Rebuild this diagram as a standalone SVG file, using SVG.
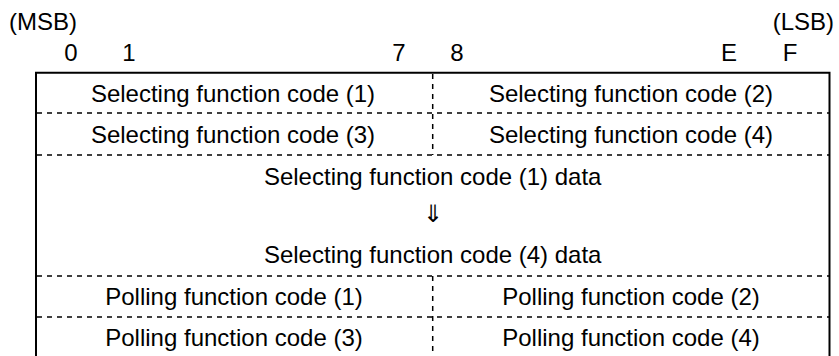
<svg xmlns="http://www.w3.org/2000/svg" width="839" height="356" viewBox="0 0 839 356">
<style>
text{font-family:"Liberation Sans",Arial,sans-serif;font-size:24px;fill:#000;text-anchor:middle}
.st{text-anchor:start}
.en{text-anchor:end}
.frame{fill:none;stroke:#000;stroke-width:2}
.dash{fill:none;stroke:#000;stroke-width:1.5;stroke-dasharray:5 5}
</style>
<rect width="839" height="356" fill="#fff"/>
<g id="header">
<text class="st" x="9" y="29.5">(MSB)</text>
<text class="en" x="834" y="29.5">(LSB)</text>
<text x="71" y="61">0</text>
<text x="129" y="61">1</text>
<text x="399" y="61">7</text>
<text x="457" y="61">8</text>
<text x="729" y="61">E</text>
<text x="790" y="61">F</text>
</g>
<g id="connectors">
<path class="frame" d="M36,360 V72.8 H829.5 V360"/>
<path class="dash" d="M37,113 H829 M37,155 H829 M37,276 H829 M37,317 H829"/>
<path class="dash" d="M432.7,74 V155 M432.7,276 V360"/>
</g>
<g id="row1">
<text x="233" y="101.5">Selecting function code (1)</text>
<text x="631" y="101.5">Selecting function code (2)</text>
</g>
<g id="row2">
<text x="233" y="142.5">Selecting function code (3)</text>
<text x="631" y="142.5">Selecting function code (4)</text>
</g>
<g id="data">
<text x="432.7" y="185">Selecting function code (1) data</text>
<text x="432.7" y="222">⇓</text>
<text x="432.7" y="263">Selecting function code (4) data</text>
</g>
<g id="row3">
<text x="234" y="305">Polling function code (1)</text>
<text x="631" y="305">Polling function code (2)</text>
</g>
<g id="row4">
<text x="234" y="345.5">Polling function code (3)</text>
<text x="631" y="345.5">Polling function code (4)</text>
</g>
</svg>
